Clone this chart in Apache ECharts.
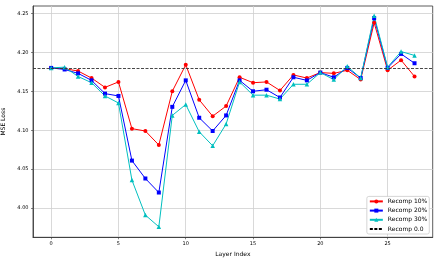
<!DOCTYPE html>
<html><head><meta charset="utf-8">
<script src="https://cdn.jsdelivr.net/npm/echarts@6/dist/echarts.min.js"></script>
<style>html,body{margin:0;padding:0;background:#fff}#c{width:439px;height:263px}</style>
</head><body><div id="c"></div>
<script>
const layers = Array.from({length: 28}, (_, i) => i);
const recomp10 = [4.180,4.179,4.176,4.167,4.155,4.162,4.102,4.099,4.081,4.150,4.184,4.139,4.118,4.131,4.168,4.161,4.162,4.151,4.171,4.167,4.174,4.173,4.177,4.165,4.238,4.177,4.190,4.169];
const recomp20 = [4.180,4.178,4.173,4.164,4.147,4.144,4.061,4.038,4.020,4.130,4.164,4.116,4.099,4.119,4.164,4.150,4.152,4.142,4.168,4.164,4.174,4.168,4.180,4.167,4.244,4.180,4.198,4.186];
const recomp30 = [4.180,4.181,4.169,4.161,4.144,4.135,4.036,3.991,3.976,4.119,4.133,4.098,4.080,4.108,4.162,4.145,4.145,4.140,4.159,4.159,4.174,4.165,4.182,4.167,4.247,4.181,4.201,4.196];
const baseline = 4.18;
const xTicks = [0,5,10,15,20,25];
const yTicks = [4.00,4.05,4.10,4.15,4.20,4.25];

const chart = echarts.init(document.getElementById('c'), null, {renderer: 'canvas'});
const font = 'DejaVu Sans';
function mk(name, vals, color, symbol, size) {
  return {
    name, type: 'line', data: layers.map((x, i) => [x, vals[i]]),
    symbol, symbolSize: size,
    lineStyle: {color, width: 1}, itemStyle: {color},
    emphasis: {disabled: true}, z: 3
  };
}
chart.setOption({
  animation: false,
  grid: {left: 33, right: 6.3, top: 6, bottom: 25.7, show: true, borderColor: '#333', borderWidth: 0.8, containLabel: false, outerBoundsMode: 'none'},
  xAxis: {
    type: 'value', min: -1.35, max: 28.35,
    name: 'Layer Index', nameLocation: 'middle', nameGap: 12,
    nameTextStyle: {fontFamily: font, fontSize: 6, color: '#000'},
    axisLine: {show: true, onZero: false, lineStyle: {color: '#333', width: 0.8}},
    axisTick: {show: true, length: 2, customValues: xTicks, lineStyle: {color: '#333', width: 0.6}},
    axisLabel: {customValues: xTicks, fontFamily: font, fontSize: 5, color: '#000', margin: 4, showMinLabel: true, showMaxLabel: true},
    splitLine: {show: true, lineStyle: {color: '#cfcfcf', width: 0.8}}
  },
  yAxis: {
    type: 'value', min: 3.9625, max: 4.2595,
    name: 'MSE Loss', nameLocation: 'middle', nameGap: 21, nameRotate: 90,
    nameTextStyle: {fontFamily: font, fontSize: 6, color: '#000'},
    axisLine: {show: true, onZero: false, lineStyle: {color: '#333', width: 0.8}},
    axisTick: {show: true, length: 2, customValues: yTicks, lineStyle: {color: '#333', width: 0.6}},
    axisLabel: {customValues: yTicks, fontFamily: font, fontSize: 5, color: '#000', margin: 4.5,
      formatter: v => v.toFixed(2)},
    splitLine: {show: true, lineStyle: {color: '#cfcfcf', width: 0.8}}
  },
  legend: {
    orient: 'vertical', right: 9.7, bottom: 29,
    itemWidth: 13, itemHeight: 5, itemGap: 3.2,
    padding: [2, 2, 2, 2],
    backgroundColor: '#fff', borderColor: '#ccc', borderWidth: 0.8, borderRadius: 2,
    textStyle: {fontFamily: font, fontSize: 6, lineHeight: 6, color: '#000'},
    data: ['Recomp 10%', 'Recomp 20%', 'Recomp 30%', {name: 'Recomp 0.0', itemStyle: {opacity: 0}}]
  },
  series: [
    mk('Recomp 10%', recomp10, '#ff0000', 'circle', 4),
    mk('Recomp 20%', recomp20, '#0000ff', 'rect', 4),
    mk('Recomp 30%', recomp30, '#00bfbf', 'triangle', 4.5),
    {
      name: 'Recomp 0.0', type: 'line', data: [], symbol: 'none',
      lineStyle: {color: '#000', type: [3, 1.5], width: 0.9}, itemStyle: {color: '#000'},
      markLine: {silent: true, symbol: 'none', label: {show: false},
        lineStyle: {color: '#333', type: [3, 1.5], width: 0.9},
        data: [{yAxis: baseline}]},
      z: 2
    }
  ]
});
</script></body></html>
